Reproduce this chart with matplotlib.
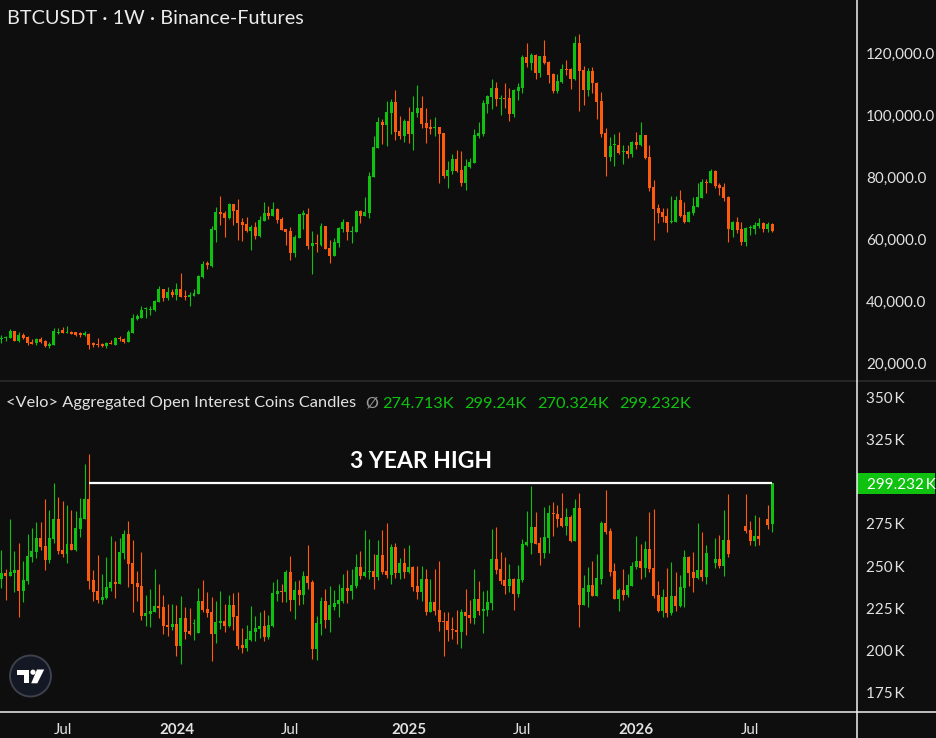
import matplotlib
matplotlib.use('Agg')
import matplotlib.pyplot as plt
import numpy as np
import pandas as pd
from matplotlib.lines import Line2D
from matplotlib.patches import Circle, Polygon, Rectangle
from matplotlib.transforms import Affine2D

nan = float('nan')

# ---------------- data ----------------
start_date = '2023-03-27'   # first weekly candle (Monday)
n_weeks = 177

# BTCUSDT weekly candles, thousands of USDT
btc_open = [27.8, 27.95, 28.2, 30.3, 27.1, 29.0, 28.4, 26.8, 26.4, 27.9,
            27.1, 25.6, 25.8, 29.8, 30.6, 29.8, 30.1, 30.0, 29.6, 29.1,
            29.3, 26.3, 26.2, 26.0, 25.5, 26.6, 25.8, 28.0, 27.7, 26.8,
            29.8, 34.3, 34.6, 37.3, 37.1, 37.1, 39.8, 43.9, 41.1, 43.0,
            41.9, 43.9, 41.7, 41.4, 41.7, 42.2, 47.7, 52.2, 51.3, 63.0,
            68.7, 68.3, 66.8, 71.2, 69.4, 65.4, 64.8, 62.7, 64.0, 61.1,
            65.9, 68.3, 67.5, 69.7, 66.5, 63.2, 62.6, 55.6, 60.4, 67.9,
            68.1, 57.9, 58.7, 58.1, 64.2, 57.1, 54.6, 58.8, 63.2, 65.5,
            62.4, 62.3, 69.0, 67.5, 68.4, 80.0, 89.4, 97.7, 96.8, 100.6,
            104.3, 94.8, 93.3, 98.1, 94.0, 100.6, 102.3, 97.3, 96.1, 95.9,
            96.0, 94.2, 80.4, 82.0, 85.8, 82.3, 78.2, 83.3, 84.6, 93.3,
            94.0, 103.7, 105.9, 108.7, 105.3, 105.5, 105.5, 100.4, 107.8, 108.7,
            118.7, 116.9, 119.4, 113.7, 119.0, 117.1, 113.3, 107.8, 110.6, 114.8,
            114.8, 111.5, 123.2, 114.5, 108.2, 114.3, 110.4, 104.5, 94.2, 86.6,
            90.2, 90.3, 88.0, 88.4, 87.5, 91.3, 90.4, 93.5, 86.4, 76.8,
            70.1, 68.8, 67.4, 65.5, 65.6, 72.6, 67.7, 65.6, 68.5, 70.4,
            73.2, 78.5, 78.2, 81.9, 77.4, 76.8, 73.5, 62.9, 65.5, 63.2,
            59.1, 63.4, 63.2, 64.2, 65.2, 63.2, 64.8]
btc_high = [29.0, 28.8, 31.0, 30.3, 29.9, 29.6, 28.7, 27.7, 28.0, 28.4,
            27.4, 26.8, 31.3, 31.3, 31.6, 31.9, 30.4, 30.0, 30.0, 30.3,
            29.6, 26.8, 28.0, 26.5, 26.9, 27.4, 28.3, 28.7, 28.0, 30.6,
            35.8, 35.8, 38.4, 38.2, 38.4, 40.3, 44.8, 43.9, 44.5, 43.9,
            45.8, 49.0, 43.5, 42.9, 43.9, 48.4, 52.9, 52.9, 64.2, 70.3,
            73.9, 69.1, 71.5, 71.2, 72.9, 66.8, 67.1, 64.5, 65.4, 67.4,
            71.9, 70.6, 71.9, 70.0, 67.1, 63.2, 63.8, 61.3, 68.1, 69.4,
            70.0, 62.6, 61.6, 65.2, 64.2, 59.7, 60.3, 63.9, 66.4, 65.5,
            64.2, 69.4, 69.4, 73.7, 81.6, 93.2, 99.4, 98.7, 104.5, 105.2,
            108.1, 99.6, 98.6, 102.6, 106.1, 109.7, 106.1, 102.1, 98.7, 99.2,
            96.0, 94.2, 85.2, 87.4, 88.7, 88.4, 85.8, 86.1, 95.5, 97.7,
            104.8, 106.4, 111.6, 110.6, 106.4, 110.3, 108.7, 108.4, 110.3, 119.4,
            123.2, 120.0, 119.7, 119.0, 124.2, 117.4, 113.7, 113.2, 116.4, 117.7,
            115.2, 125.5, 126.1, 115.8, 115.2, 115.5, 110.6, 107.5, 95.8, 92.9,
            93.9, 94.5, 90.3, 90.3, 91.6, 94.5, 97.7, 93.5, 90.3, 79.0,
            71.4, 70.1, 70.1, 73.9, 73.9, 75.8, 71.9, 69.0, 73.5, 78.0,
            79.4, 79.4, 82.6, 82.3, 78.0, 78.0, 73.9, 65.8, 67.1, 65.5,
            63.9, 64.5, 65.5, 66.8, 65.5, 65.5, 65.2]
btc_low = [26.5, 27.1, 28.2, 27.1, 26.7, 27.9, 25.8, 26.0, 25.8, 26.4,
           25.2, 24.9, 25.8, 29.3, 29.7, 29.7, 29.3, 28.7, 28.4, 28.7,
           24.5, 25.3, 25.2, 25.1, 24.9, 26.1, 25.8, 27.1, 26.4, 26.8,
           29.8, 33.9, 34.6, 34.5, 35.5, 36.8, 39.8, 40.0, 40.4, 41.3,
           40.3, 41.4, 40.3, 38.4, 41.7, 42.2, 47.5, 50.3, 51.1, 59.1,
           64.6, 60.8, 66.6, 64.6, 59.7, 59.5, 62.4, 56.5, 60.1, 60.8,
           65.9, 66.6, 67.5, 65.0, 63.0, 58.1, 53.2, 54.3, 60.4, 63.3,
           56.9, 48.7, 55.8, 57.7, 56.8, 52.4, 54.6, 57.5, 62.3, 59.7,
           58.7, 62.3, 65.2, 67.5, 66.8, 80.0, 89.4, 90.6, 90.0, 93.9,
           91.9, 92.3, 91.4, 91.1, 88.7, 99.3, 95.9, 91.1, 94.0, 93.2,
           78.2, 79.8, 76.6, 81.1, 81.5, 77.2, 75.8, 82.9, 84.6, 92.7,
           93.3, 100.7, 102.0, 103.0, 100.1, 102.3, 98.2, 99.5, 104.9, 107.2,
           115.6, 114.6, 111.7, 112.4, 116.6, 110.4, 107.2, 107.2, 110.4, 113.0,
           108.5, 111.3, 101.4, 103.3, 106.2, 107.0, 98.7, 93.0, 80.4, 85.3,
           83.6, 87.4, 84.3, 86.2, 86.6, 89.1, 90.1, 85.7, 75.6, 59.8,
           65.0, 65.6, 62.4, 65.3, 65.6, 67.2, 65.0, 65.6, 67.8, 70.4,
           73.2, 74.9, 78.2, 76.5, 74.2, 72.3, 59.1, 60.8, 62.0, 58.2,
           57.8, 61.4, 61.7, 63.5, 62.4, 62.3, 62.4]
btc_close = [28.0, 28.3, 30.3, 27.2, 29.0, 28.2, 26.4, 26.2, 27.9, 26.7,
             25.5, 26.2, 30.3, 30.1, 29.8, 30.0, 29.5, 29.0, 29.0, 29.7,
             25.8, 25.9, 25.8, 25.6, 26.6, 26.2, 28.0, 27.6, 26.8, 30.0,
             34.5, 35.0, 37.1, 37.5, 37.5, 39.9, 43.9, 41.1, 42.9, 41.9,
             43.9, 41.4, 41.3, 41.8, 42.6, 48.0, 51.9, 51.5, 63.2, 68.6,
             68.2, 66.9, 71.2, 69.1, 65.3, 64.6, 62.6, 63.8, 61.1, 66.1,
             68.3, 67.5, 69.7, 66.2, 63.0, 62.4, 55.6, 60.6, 68.1, 68.0,
             57.9, 58.7, 58.5, 64.2, 56.8, 54.6, 59.0, 63.5, 65.5, 62.3,
             62.5, 69.0, 67.5, 68.7, 80.3, 89.7, 97.7, 96.8, 101.0, 104.2,
             94.6, 93.3, 98.2, 94.0, 101.0, 102.3, 97.1, 95.8, 95.5, 96.0,
             94.0, 80.3, 82.3, 85.8, 82.0, 78.2, 83.5, 84.8, 93.5, 94.2,
             103.9, 106.1, 108.7, 105.3, 105.5, 105.3, 100.4, 108.1, 109.0, 118.7,
             116.9, 119.4, 113.7, 119.0, 116.9, 113.0, 107.8, 111.0, 114.8, 114.5,
             111.7, 123.2, 114.3, 108.2, 114.2, 110.2, 104.3, 93.9, 86.6, 90.0,
             90.4, 87.7, 88.5, 87.5, 91.3, 90.4, 93.5, 86.0, 76.4, 69.8,
             68.5, 67.1, 65.3, 65.8, 72.6, 67.4, 65.6, 68.7, 70.6, 73.5,
             78.4, 78.2, 81.9, 77.1, 76.5, 73.3, 63.1, 65.5, 62.9, 59.1,
             63.5, 63.6, 64.5, 65.2, 63.2, 64.8, 62.7]

# Aggregated open interest (coins), thousands; nan = week without a candle
oi_open = [242.4, 245.8, 244.2, 245.8, 247.6, 235.3, 241.3, 255.5, 258.5, 266.7,
           261.9, 253.6, 266.1, 278.0, 259.5, 257.1, 263.1, 259.5, 272.0, 278.0,
           289.9, 241.7, 235.3, 229.9, 231.1, 237.1, 240.5, 239.5, 257.9, 269.0,
           251.8, 239.9, 238.1, 220.4, 221.6, 222.8, 226.4, 225.8, 215.1, 213.9,
           215.7, 202.6, 219.2, 211.5, 215.7, 210.3, 229.4, 224.4, 222.8, 209.7,
           216.3, 217.5, 214.5, 227.0, 220.4, 203.2, 201.4, 206.1, 210.9, 212.7,
           214.5, 207.9, 214.5, 233.5, 235.3, 234.7, 246.6, 229.9, 235.9, 232.9,
           244.2, 240.7, 200.8, 215.7, 229.4, 218.0, 225.4, 227.6, 229.4, 237.1,
           235.3, 238.3, 249.6, 244.2, 246.6, 247.2, 243.6, 256.5, 247.2, 244.8,
           261.3, 246.0, 252.0, 246.6, 249.6, 238.3, 234.7, 242.3, 222.8, 228.8,
           224.0, 217.5, 217.5, 212.7, 212.1, 210.9, 222.8, 221.0, 219.2, 230.5,
           223.4, 224.0, 228.2, 254.1, 248.4, 241.9, 238.3, 242.5, 233.5, 241.9,
           262.7, 263.9, 273.4, 263.9, 257.9, 266.7, 281.7, 280.9, 278.6, 273.8,
           279.2, 264.9, 284.5, 227.0, 234.5, 238.9, 232.3, 242.4, 275.6, 270.8,
           247.2, 230.5, 235.9, 232.9, 238.3, 249.4, 253.0, 249.0, 260.1, 248.8,
           232.9, 223.4, 231.5, 222.2, 232.1, 226.4, 237.1, 255.4, 246.4, 243.0,
           247.6, 243.6, nan, 252.0, 254.1, 250.2, 265.5, nan, nan, nan,
           273.8, 271.4, 264.9, 267.9, nan, 278.0, 274.713]
oi_high = [259.5, 248.2, 278.0, 258.9, 263.7, 253.0, 269.0, 272.6, 276.2, 276.2,
           289.9, 283.3, 299.4, 291.1, 288.7, 286.3, 283.3, 282.7, 290.5, 310.7,
           316.7, 247.6, 256.5, 245.2, 255.4, 267.9, 264.9, 266.7, 271.4, 276.8,
           265.4, 247.0, 258.3, 232.9, 236.5, 248.2, 239.3, 232.9, 227.6, 227.6,
           227.0, 232.3, 225.8, 225.2, 218.6, 236.9, 241.7, 234.5, 231.5, 229.4,
           235.3, 227.6, 232.9, 234.1, 234.7, 213.3, 215.1, 226.4, 220.4, 222.8,
           224.0, 221.0, 240.7, 242.5, 239.5, 247.8, 255.9, 241.3, 241.9, 247.2,
           262.5, 241.9, 220.4, 231.7, 236.5, 238.3, 235.9, 239.5, 245.4, 247.8,
           248.4, 257.3, 258.9, 271.4, 266.3, 257.1, 265.4, 271.4, 275.6, 263.1,
           263.7, 254.9, 260.7, 262.5, 250.0, 250.0, 250.0, 248.4, 242.5, 248.4,
           252.9, 222.8, 222.8, 219.8, 224.0, 224.6, 236.5, 229.9, 248.4, 241.3,
           235.3, 235.9, 272.0, 273.2, 258.3, 255.4, 251.2, 243.0, 250.6, 266.1,
           282.7, 297.6, 282.1, 267.3, 285.1, 286.3, 288.1, 286.3, 293.4, 284.5,
           280.4, 289.9, 293.4, 244.6, 249.6, 253.0, 257.1, 276.8, 295.2, 272.6,
           251.8, 236.7, 248.2, 245.2, 252.6, 267.9, 263.1, 264.9, 282.1, 283.9,
           241.3, 236.3, 248.8, 252.4, 246.4, 244.6, 259.5, 256.0, 258.3, 275.6,
           270.2, 262.5, nan, 266.7, 268.4, 283.3, 292.9, nan, nan, nan,
           292.9, 276.8, 280.4, 279.2, nan, 286.3, 299.24]
oi_low = [237.1, 230.0, 244.2, 234.7, 219.8, 228.8, 239.1, 252.6, 255.0, 259.3,
          247.6, 252.0, 263.7, 257.1, 255.5, 252.0, 259.5, 258.9, 267.3, 278.0,
          236.3, 229.4, 228.2, 227.6, 230.5, 235.3, 231.1, 239.5, 254.4, 237.7,
          222.8, 229.4, 218.0, 214.5, 213.9, 222.8, 219.2, 209.7, 208.5, 212.1,
          196.6, 191.9, 206.7, 209.1, 206.1, 210.3, 222.8, 219.8, 193.6, 204.4,
          212.7, 210.9, 213.9, 212.1, 200.8, 198.4, 199.6, 205.5, 205.5, 207.3,
          205.5, 206.7, 213.9, 229.4, 228.8, 228.8, 223.4, 218.6, 227.0, 227.6,
          236.5, 194.8, 194.2, 209.1, 213.3, 210.9, 224.0, 219.8, 228.2, 228.2,
          230.5, 237.1, 242.5, 243.6, 242.5, 236.5, 241.9, 245.4, 243.0, 239.5,
          243.0, 242.5, 243.0, 246.0, 235.3, 230.5, 229.4, 221.0, 222.8, 221.0,
          211.5, 196.6, 205.5, 206.7, 203.8, 201.4, 209.1, 216.3, 215.7, 221.0,
          210.3, 220.4, 224.0, 245.4, 239.1, 233.5, 234.7, 224.0, 231.7, 240.7,
          262.1, 257.3, 263.3, 250.8, 254.9, 257.9, 268.1, 273.4, 273.2, 268.4,
          264.3, 264.9, 213.9, 227.0, 225.6, 232.3, 232.3, 239.5, 269.2, 244.2,
          230.5, 223.4, 229.9, 231.7, 238.3, 248.4, 242.4, 243.6, 246.6, 231.1,
          222.8, 219.8, 219.8, 221.0, 223.4, 225.8, 225.8, 238.3, 234.7, 242.4,
          241.3, 239.5, nan, 249.0, 249.0, 244.2, 255.5, nan, nan, nan,
          269.6, 262.5, 261.9, 262.5, nan, 272.0, 270.324]
oi_close = [245.8, 244.2, 246.4, 247.6, 235.3, 241.7, 255.9, 258.9, 266.7, 261.5,
            253.6, 266.7, 278.0, 258.9, 257.1, 263.1, 259.5, 272.6, 278.6, 289.9,
            241.1, 234.7, 229.9, 231.5, 237.5, 240.5, 239.5, 258.3, 269.0, 251.4,
            239.5, 237.7, 220.4, 222.2, 223.4, 226.4, 225.2, 214.5, 213.9, 215.7,
            202.6, 219.2, 210.9, 209.7, 216.3, 229.4, 224.0, 222.2, 209.7, 216.9,
            217.5, 214.5, 227.0, 219.8, 202.6, 201.4, 206.7, 211.5, 213.3, 214.5,
            207.9, 215.1, 234.1, 235.3, 234.7, 246.6, 229.9, 235.9, 232.9, 244.2,
            240.1, 200.8, 216.3, 229.4, 218.0, 227.0, 228.2, 229.9, 237.1, 235.3,
            238.9, 249.6, 244.2, 246.6, 247.2, 243.6, 256.5, 246.6, 244.8, 261.3,
            246.0, 252.0, 246.6, 249.6, 237.7, 234.7, 242.3, 222.8, 228.8, 223.4,
            216.9, 216.9, 212.1, 212.1, 210.9, 222.8, 220.4, 219.2, 230.5, 223.4,
            224.6, 228.8, 254.1, 247.8, 241.3, 238.3, 242.5, 233.5, 242.5, 263.3,
            264.5, 273.4, 263.3, 257.9, 267.3, 281.7, 280.9, 278.0, 273.8, 279.2,
            264.9, 284.5, 227.0, 237.1, 238.9, 232.3, 243.0, 275.6, 270.2, 246.6,
            230.5, 235.9, 232.9, 238.9, 250.0, 253.0, 249.0, 260.1, 248.4, 232.3,
            223.4, 231.5, 222.2, 232.1, 226.4, 237.5, 255.4, 246.0, 243.0, 247.6,
            243.6, 257.7, nan, 254.1, 250.2, 265.5, 257.3, nan, nan, nan,
            270.8, 264.9, 267.9, 266.1, nan, 274.4, 299.232]

high_line_start = 20          # week index where the "3 YEAR HIGH" line begins
high_line_value = 299.24
price_ticks = [20, 40, 60, 80, 100, 120]
oi_ticks = [175, 200, 225, 250, 275, 325, 350]
legend_values = ['274.713K', '299.24K', '270.324K', '299.232K']
last_oi_label = '299.232 K'

# ---------------- style ----------------
BG = '#0e0e0e'
GREEN = '#0fc20f'
ORANGE = '#ff5b0c'
TXT = '#e2e2e2'
W, H = 937, 738
plt.rcParams['font.family'] = ['Lato', 'DejaVu Sans']

fig = plt.figure(figsize=(W / 100, H / 100), dpi=100, facecolor=BG)

def fx(px):
    return px / W

def fy(py):
    return 1 - py / H

ax1 = fig.add_axes([0, fy(381), fx(857), 381 / H])
ax2 = fig.add_axes([0, fy(712), fx(857), (712 - 382) / H])

dates = pd.date_range(start_date, periods=n_weeks, freq='7D')
xs = np.arange(n_weeks)


def candles(ax, o, h, l, c, minh):
    o, h, l, c = map(np.asarray, (o, h, l, c))
    ok = ~np.isnan(o)
    x = xs[ok]
    o, h, l, c = o[ok], h[ok], l[ok], c[ok]
    up = c >= o
    cols = np.where(up, GREEN, ORANGE)
    ax.vlines(x, l, h, colors=cols, linewidth=0.8, zorder=2)
    bottom = np.minimum(o, c)
    height = np.maximum(np.abs(c - o), minh)
    ax.bar(x, height, bottom=bottom, width=0.68, color=cols, linewidth=0, zorder=3)


candles(ax1, btc_open, btc_high, btc_low, btc_close, 0.33)
candles(ax2, oi_open, oi_high, oi_low, oi_close, 0.6)

for ax in (ax1, ax2):
    ax.set_facecolor(BG)
    ax.set_xlim(-0.3, 195.4)
    for s in ax.spines.values():
        s.set_visible(False)
    ax.yaxis.tick_right()
    ax.tick_params(axis='y', length=0, pad=6.5, labelsize=11, labelcolor=TXT)

ax1.set_ylim(14.19, 137.10)
ax1.set_yticks(price_ticks)
ax1.set_yticklabels([f'{v * 1000:,.1f}' for v in price_ticks])
ax1.set_xticks([])

ax2.set_ylim(163.10, 359.52)
ax2.set_yticks(oi_ticks)
ax2.set_yticklabels([f'{v}\u2009K' for v in oi_ticks])

# time axis ticks: first weekly candle of January / July
tick_idx, tick_lab = [], []
for i in range(1, n_weeks):
    m = dates[i].month
    if m in (1, 7) and m != dates[i - 1].month:
        tick_idx.append(i)
        tick_lab.append(str(dates[i].year) if m == 1 else 'Jul')
ax2.set_xticks(tick_idx)
ax2.set_xticklabels(tick_lab)
ax2.tick_params(axis='x', length=0, pad=8, labelsize=10.8, labelcolor=TXT)
for t in ax2.get_xticklabels():
    if t.get_text() != 'Jul':
        t.set_fontweight('bold')

# 3 year high line + label
ax2.hlines(high_line_value, high_line_start, n_weeks - 1, colors='white', linewidth=1.6, zorder=4)
ax2.text(95.8, 308.2, '3 YEAR HIGH', color='white', fontsize=16.5, fontweight='bold',
         ha='center', va='baseline', zorder=5)

# titles / legends
fig.text(fx(7), fy(24), 'BTCUSDT · 1W · Binance-Futures', color='#ececec', fontsize=14.3,
         ha='left', va='baseline')
fig.text(fx(6), fy(407.5), '<Velo> Aggregated Open Interest Coins Candles', color=TXT,
         fontsize=11.8, ha='left', va='baseline')
fig.text(fx(365), fy(407.5), 'Ø', color='#9a9a9a', fontsize=11.5, ha='left', va='baseline')
for xv, val in zip([382, 464, 537, 619], legend_values):
    fig.text(fx(xv), fy(407.5), val, color=GREEN, fontsize=11.8, ha='left', va='baseline')

# last value label on the OI scale
fig.patches.append(Rectangle((fx(857), fy(494)), fx(935) - fx(857), (494 - 473) / H,
                             transform=fig.transFigure, facecolor=GREEN, edgecolor='none', zorder=6))
fig.text(fx(867), fy(483.5), last_oi_label.replace(' ', '\u2009'), color='white', fontsize=11,
         ha='left', va='center_baseline', zorder=7)

# separators
sep = dict(transform=fig.transFigure, zorder=8)
fig.add_artist(Line2D([0, 1], [fy(381.5), fy(381.5)], color='#2c2c2c', linewidth=1.2, **sep))
fig.add_artist(Line2D([fx(857), fx(857)], [0, 1], color='#f2f2f2', linewidth=1.1, **sep))
fig.add_artist(Line2D([0, 1], [fy(712), fy(712)], color='#f2f2f2', linewidth=1.1, **sep))

# TradingView badge
pix = Affine2D().scale(1, -1).translate(0, H) + fig.dpi_scale_trans.inverted() + fig.dpi_scale_trans
fig.add_artist(Circle((30.5, 676), 20.5, transform=pix, facecolor='#141824', edgecolor='#3d414b',
                      linewidth=1.4, zorder=9))
fig.add_artist(Rectangle((17.3, 669.5), 12.0, 5.0, transform=pix, facecolor='white',
                         edgecolor='none', zorder=10))
fig.add_artist(Rectangle((23.6, 669.5), 5.7, 13.8, transform=pix, facecolor='white',
                         edgecolor='none', zorder=10))
fig.add_artist(Circle((33.0, 672.2), 2.6, transform=pix, facecolor='white', edgecolor='none',
                      zorder=10))
fig.add_artist(Polygon([(37.0, 669.5), (44.2, 669.5), (37.3, 683.3), (31.2, 683.3)],
                       closed=True, transform=pix, facecolor='white', edgecolor='none', zorder=10))

fig.savefig('out.png', dpi=100, facecolor=BG)
